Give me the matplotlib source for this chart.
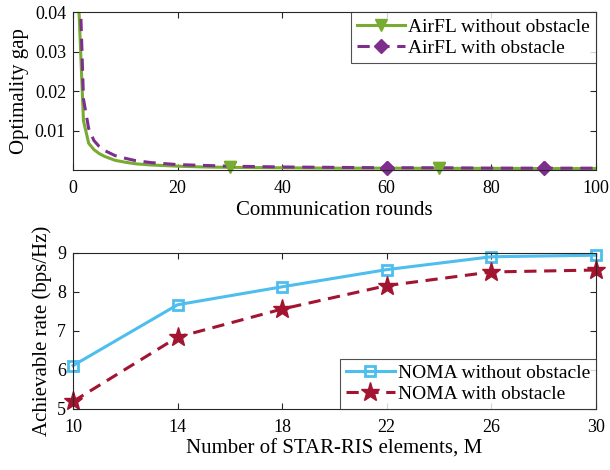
import matplotlib
matplotlib.use("Agg")
import matplotlib.pyplot as plt

plt.rcParams['font.family'] = ['Liberation Serif', 'DejaVu Serif']
plt.rcParams['mathtext.fontset'] = 'stix'

# ---- data: top panel ----
rounds = [1, 2, 3, 4, 5, 6, 8, 10, 12, 15, 20, 25, 30, 40, 50, 60, 70, 80, 90, 100]
gap_without = [0.045, 0.0125, 0.0068, 0.0052, 0.0042, 0.0035, 0.0025, 0.0020, 0.0016,
               0.0013, 0.0010, 0.0008, 0.0007, 0.0006, 0.0005, 0.0005, 0.00045,
               0.00045, 0.0004, 0.0004]
gap_with = [0.06, 0.018, 0.0105, 0.0075, 0.0060, 0.0050, 0.0037, 0.0030, 0.0024,
            0.0019, 0.0014, 0.0012, 0.0010, 0.0008, 0.0007, 0.0006, 0.0006,
            0.0005, 0.0005, 0.0005]
markers_without = [30, 70]
markers_with = [60, 90]

# ---- data: bottom panel ----
elements = [10, 14, 18, 22, 26, 30]
rate_without = [6.11, 7.67, 8.13, 8.57, 8.90, 8.94]
rate_with = [5.19, 6.84, 7.56, 8.16, 8.51, 8.56]

green = '#77AC30'
purple = '#7E2F8E'
blue = '#4DBEEE'
red = '#A2142F'
axcol = '#262626'

TICK = 13
LAB = 15
LEG = 14

fig = plt.figure(figsize=(6.1, 4.7), dpi=100)
ax1 = fig.add_axes([0.1197, 0.638, 0.857, 0.336])
ax2 = fig.add_axes([0.1197, 0.130, 0.857, 0.332])

def style(ax):
    for s in ax.spines.values():
        s.set_color(axcol)
        s.set_linewidth(0.8)
    ax.tick_params(direction='in', top=True, right=True, colors=axcol,
                   labelcolor='black', labelsize=TICK, length=4, width=0.8, pad=5)
    ax.tick_params(axis='x', pad=7)

mk_idx_wo = [rounds.index(r) for r in markers_without]
mk_idx_w = [rounds.index(r) for r in markers_with]

ax1.plot(rounds, gap_without, '-', color=green, lw=2.2, marker='v', ms=9,
         markevery=mk_idx_wo, label='AirFL without obstacle')
ax1.plot(rounds, gap_with, '--', color=purple, lw=2.2, marker='D', ms=7,
         markevery=mk_idx_w, dashes=(4, 2.5), label='AirFL with obstacle')
# markers drawn unclipped
ax1.plot([rounds[i] for i in mk_idx_wo], [gap_without[i] for i in mk_idx_wo], 'v',
         color=green, ms=9, clip_on=False)
ax1.plot([rounds[i] for i in mk_idx_w], [gap_with[i] for i in mk_idx_w], 'D',
         color=purple, ms=7, clip_on=False)
ax1.set_xlim(0, 100)
ax1.set_ylim(0, 0.04)
ax1.set_xticks([0, 20, 40, 60, 80, 100])
ax1.set_yticks([0.01, 0.02, 0.03, 0.04])
ax1.set_yticklabels(['0.01', '0.02', '0.03', '0.04'])
ax1.set_xlabel('Communication rounds', fontsize=LAB, labelpad=3)
ax1.set_ylabel('Optimality gap', fontsize=LAB, labelpad=4)
style(ax1)
leg1 = ax1.legend(loc='upper right', fontsize=LEG, frameon=True, fancybox=False,
                  borderpad=0.3, labelspacing=0.18, handlelength=2.5,
                  handletextpad=0.15, borderaxespad=0.0)
leg1.get_frame().set_edgecolor(axcol)
leg1.get_frame().set_linewidth(0.8)

ax2.plot(elements, rate_without, '-', color=blue, lw=2.2, marker='s', ms=7,
         mfc='none', mew=2, label='NOMA without obstacle', clip_on=False)
ax2.plot(elements, rate_with, '--', color=red, lw=2.2, marker='*', ms=14,
         dashes=(4, 2.5), label='NOMA with obstacle', clip_on=False)
ax2.set_xlim(10, 30)
ax2.set_ylim(5, 9)
ax2.set_xticks(elements)
ax2.set_yticks([5, 6, 7, 8, 9])
ax2.set_xlabel('Number of STAR-RIS elements, M', fontsize=LAB, labelpad=3)
ax2.set_ylabel('Achievable rate (bps/Hz)', fontsize=LAB, labelpad=4)
style(ax2)
leg2 = ax2.legend(loc='lower right', fontsize=LEG, frameon=True, fancybox=False,
                  borderpad=0.3, labelspacing=0.18, handlelength=2.5,
                  handletextpad=0.15, borderaxespad=0.0)
leg2.get_frame().set_edgecolor(axcol)
leg2.get_frame().set_linewidth(0.8)

fig.savefig('out.png', dpi=100)
